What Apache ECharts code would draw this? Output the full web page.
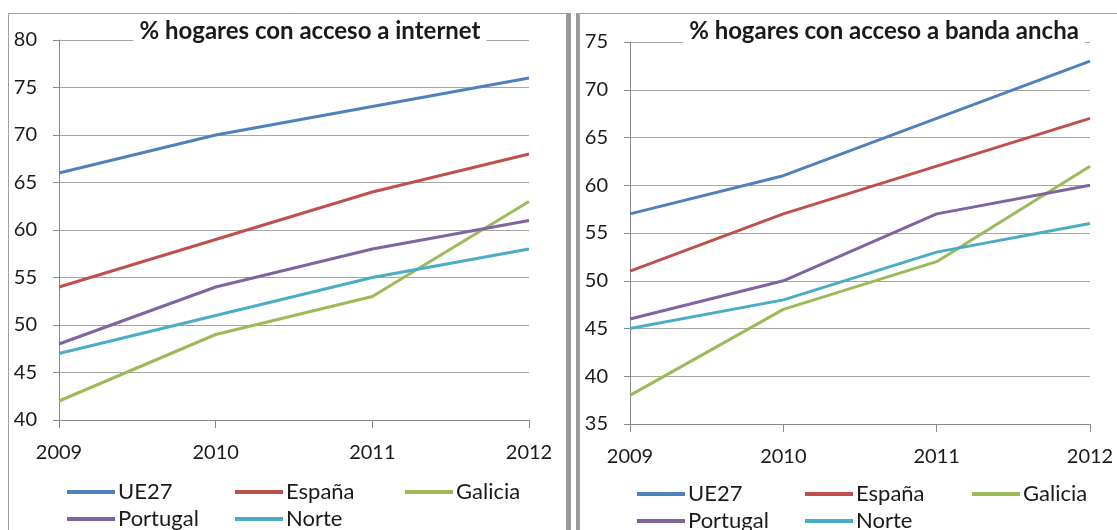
<!DOCTYPE html>
<html>
<head>
<meta charset="utf-8">
<script src="https://cdn.jsdelivr.net/npm/echarts@6/dist/echarts.min.js"></script>
<style>
  html, body { margin: 0; padding: 0; background: #fff; }
  #chart { width: 1117px; height: 530px; }
</style>
</head>
<body>
<div id="chart"></div>
<script>
const years = ['2009', '2010', '2011', '2012'];
const names = ['UE27', 'España', 'Galicia', 'Portugal', 'Norte'];
const colors = ['#4f81bd', '#c0504d', '#9bbb59', '#8064a2', '#4bacc6'];

// % hogares con acceso a internet
const netUE27 = [66, 70, 73, 76];
const netEspana = [54, 59, 64, 68];
const netGalicia = [42, 49, 53, 63];
const netPortugal = [48, 54, 58, 61];
const netNorte = [47, 51, 55, 58];

// % hogares con acceso a banda ancha
const bbUE27 = [57, 61, 67, 73];
const bbEspana = [51, 57, 62, 67];
const bbGalicia = [38, 47, 52, 62];
const bbPortugal = [46, 50, 57, 60];
const bbNorte = [45, 48, 53, 56];

const font = 'Lato, "Open Sans", sans-serif';
const txt = '#1a1a1a';

const makeX = (idx) => ({
    type: 'category', gridIndex: idx, data: years, boundaryGap: false,
    axisLine: { lineStyle: { color: '#8a8a8a', width: 1 } },
    axisTick: { show: true, length: 8, lineStyle: { color: '#8a8a8a' } },
    axisLabel: { color: txt, fontSize: 20, fontFamily: font, margin: 23 },
    splitLine: { show: false }
});

const makeY = (idx, min, max) => ({
    type: 'value', gridIndex: idx, min: min, max: max, interval: 5,
    axisLine: { show: true, lineStyle: { color: '#8a8a8a', width: 1 } },
    axisTick: { show: true, length: 6, lineStyle: { color: '#8a8a8a' } },
    axisLabel: { color: txt, fontSize: 20, fontFamily: font, margin: 22 },
    splitLine: { lineStyle: { color: '#a6a6a6', width: 1 } }
});

const makeSeries = (idx, arrs) => arrs.map((arr, i) => ({
    name: names[i], type: 'line', xAxisIndex: idx, yAxisIndex: idx,
    data: arr, symbol: 'none', smooth: false,
    lineStyle: { color: colors[i], width: 3 }, itemStyle: { color: colors[i] }
}));

// one legend per item so the two rows line up like the original
const makeLegend = (left, top, name) => ({
    left: left, top: top, orient: 'horizontal',
    itemWidth: 48, itemHeight: 4, icon: 'rect', padding: 0,
    textStyle: { color: txt, fontSize: 22, lineHeight: 20, fontFamily: font, padding: [0, 0, 0, -2] },
    data: [name]
});

const myChart = echarts.init(document.getElementById('chart'), null, { renderer: 'canvas' });

const option = {
    animation: false,
    color: colors,
    title: [
        { text: '% hogares con acceso a internet', left: 304, top: 19, textAlign: 'center',
          backgroundColor: '#fff', padding: [0, 6],
          textStyle: { fontSize: 24, fontWeight: 'bold', color: txt, fontFamily: font } },
        { text: '% hogares con acceso a banda ancha', left: 878, top: 19, textAlign: 'center',
          backgroundColor: '#fff', padding: [0, 6],
          textStyle: { fontSize: 24, fontWeight: 'bold', color: txt, fontFamily: font } }
    ],
    grid: [
        { left: 59, top: 40, width: 470, height: 380 },
        { left: 630, top: 42, width: 460, height: 382 }
    ],
    xAxis: [makeX(0), makeX(1)],
    yAxis: [makeY(0, 40, 80), makeY(1, 35, 75)],
    legend: [
        makeLegend(67, 481, 'UE27'),
        makeLegend(235, 481, 'España'),
        makeLegend(405, 481, 'Galicia'),
        makeLegend(67, 508, 'Portugal'),
        makeLegend(235, 508, 'Norte'),
        makeLegend(637, 483, 'UE27'),
        makeLegend(805, 483, 'España'),
        makeLegend(972, 483, 'Galicia'),
        makeLegend(637, 510, 'Portugal'),
        makeLegend(805, 510, 'Norte')
    ],
    series: [
        ...makeSeries(0, [netUE27, netEspana, netGalicia, netPortugal, netNorte]),
        ...makeSeries(1, [bbUE27, bbEspana, bbGalicia, bbPortugal, bbNorte])
    ],
    graphic: [
        { type: 'rect', shape: { x: 8.5, y: 13.5, width: 560, height: 530 }, silent: true,
          style: { fill: 'none', stroke: '#a0a0a0', lineWidth: 1 } },
        { type: 'rect', shape: { x: 566, y: 13, width: 5, height: 520 }, silent: true,
          style: { fill: '#9a9a9a' } },
        { type: 'rect', shape: { x: 576, y: 13, width: 3, height: 520 }, silent: true,
          style: { fill: '#9a9a9a' } },
        { type: 'rect', shape: { x: 579.5, y: 13.5, width: 560, height: 530 }, silent: true,
          style: { fill: 'none', stroke: '#a0a0a0', lineWidth: 1 } }
    ]
};

myChart.setOption(option);
window.addEventListener('resize', myChart.resize);
</script>
</body>
</html>
